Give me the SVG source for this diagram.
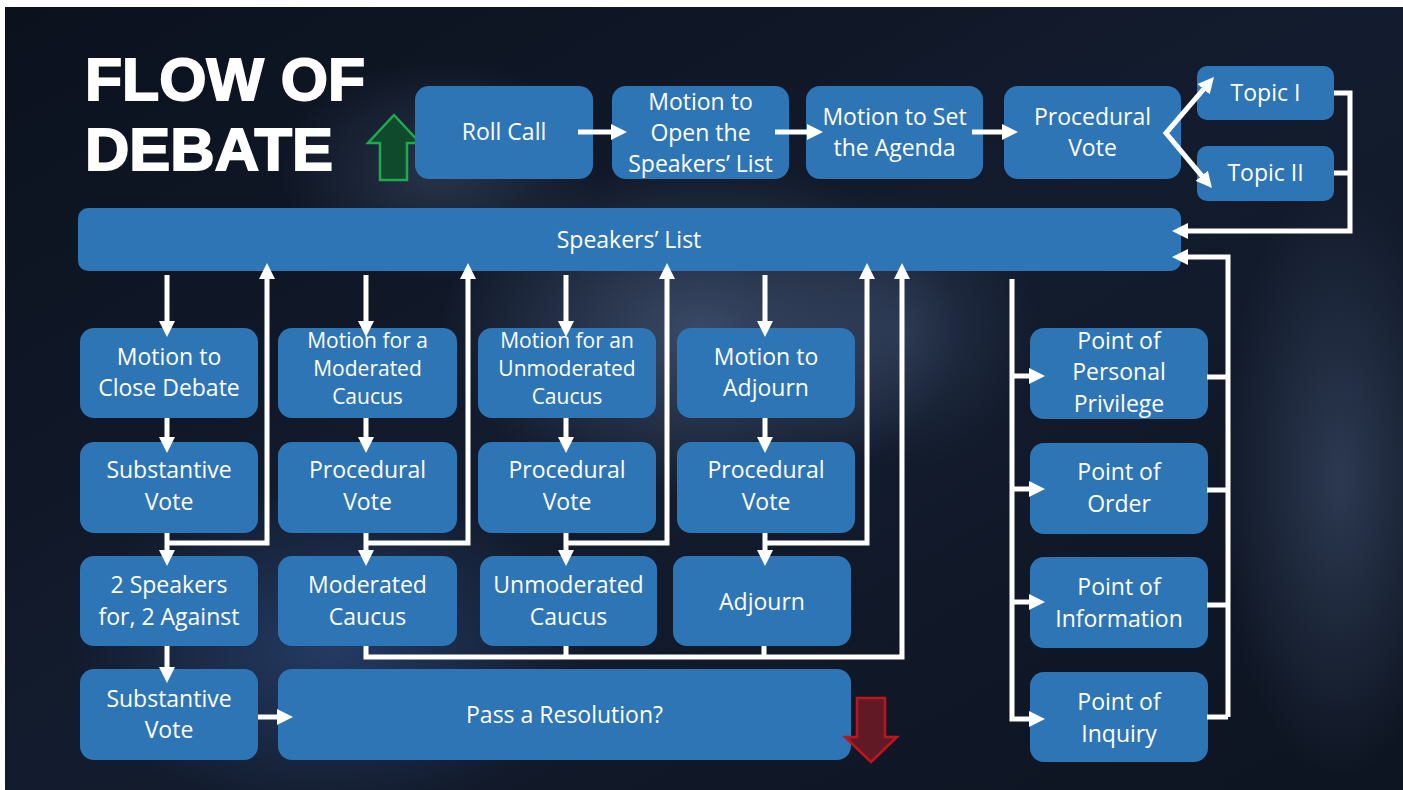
<svg xmlns="http://www.w3.org/2000/svg" width="1403" height="790" viewBox="0 0 1403 790">
  <defs>
    <radialGradient id="g1" cx="0.5" cy="0.5" r="0.5">
      <stop offset="0" stop-color="#5a6f95" stop-opacity="0.55"/>
      <stop offset="1" stop-color="#5a6f95" stop-opacity="0"/>
    </radialGradient>
    <radialGradient id="g2" cx="0.5" cy="0.5" r="0.5">
      <stop offset="0" stop-color="#2f4f86" stop-opacity="0.6"/>
      <stop offset="1" stop-color="#2f4f86" stop-opacity="0"/>
    </radialGradient>
    <linearGradient id="bg" x1="0" y1="0" x2="1" y2="1">
      <stop offset="0" stop-color="#0b111d"/>
      <stop offset="0.5" stop-color="#131c2e"/>
      <stop offset="1" stop-color="#0d1421"/>
    </linearGradient>
    <marker id="ah" markerUnits="userSpaceOnUse" markerWidth="16" markerHeight="16" viewBox="0 0 16 16" refX="10" refY="8" orient="auto-start-reverse">
      <path d="M0,0 L16,8 L0,16 z" fill="#ffffff"/>
    </marker>
    <style>
      .b { fill: #2e75b6; }
      .t { font-family: "Open Sans", "Noto Sans", sans-serif; font-size: 23px; fill: #ffffff; text-anchor: middle; }
      .s { font-size: 21px; }
      .c { fill: none; stroke: #ffffff; stroke-width: 5; stroke-linejoin: miter; stroke-linecap: butt; }
      .a { marker-end: url(#ah); }
      .title { font-family: "Liberation Sans", Arial, sans-serif; font-weight: 900; font-size: 59px; fill: #ffffff; stroke: #ffffff; stroke-width: 1.8; }
    </style>
  </defs>

  <!-- background -->
  <rect x="0" y="0" width="1403" height="790" fill="#ffffff"/>
  <rect x="5" y="7" width="1398" height="783" fill="url(#bg)"/>
  <ellipse cx="700" cy="330" rx="260" ry="170" fill="url(#g1)"/>
  <ellipse cx="440" cy="170" rx="160" ry="110" fill="url(#g1)" opacity="0.6"/>
  <ellipse cx="1340" cy="480" rx="120" ry="300" fill="url(#g1)" opacity="0.7"/>
  <ellipse cx="330" cy="650" rx="260" ry="170" fill="url(#g2)"/>
  <ellipse cx="900" cy="330" rx="140" ry="140" fill="url(#g1)" opacity="0.5"/>

  <!-- title -->
  <g id="title">
    <text class="title" x="85" y="100" textLength="280" lengthAdjust="spacingAndGlyphs">FLOW OF</text>
    <text class="title" x="85" y="170" textLength="248" lengthAdjust="spacingAndGlyphs">DEBATE</text>
  </g>

  <!-- green up arrow -->
  <g id="up-arrow">
    <polygon points="394,115 420,143 407,143 407,180 380,180 380,143 368,143" fill="#0e4a2b" stroke="#22a84f" stroke-width="2.5"/>
  </g>

  <!-- top row -->
  <g id="roll-call"><rect class="b" x="415" y="86" width="178" height="93" rx="14"/><text class="t" x="504" y="140">Roll Call</text></g>
  <g id="open-speakers-list"><rect class="b" x="612" y="86" width="177" height="93" rx="14"/><text class="t" x="700.5" y="110">Motion to</text><text class="t" x="700.5" y="141">Open the</text><text class="t" x="700.5" y="172">Speakers’ List</text></g>
  <g id="set-agenda"><rect class="b" x="806" y="86" width="177" height="93" rx="14"/><text class="t" x="894.5" y="125">Motion to Set</text><text class="t" x="894.5" y="156">the Agenda</text></g>
  <g id="procedural-vote-top"><rect class="b" x="1004" y="86" width="177" height="93" rx="14"/><text class="t" x="1092.5" y="125">Procedural</text><text class="t" x="1092.5" y="156">Vote</text></g>
  <g id="topic-1"><rect class="b" x="1197" y="66" width="137" height="54" rx="10"/><text class="t" x="1265.5" y="101">Topic I</text></g>
  <g id="topic-2"><rect class="b" x="1197" y="146" width="137" height="55" rx="10"/><text class="t" x="1265.5" y="181">Topic II</text></g>

  <g id="speakers-list"><rect class="b" x="78" y="208" width="1103" height="63" rx="10"/><text class="t" x="629" y="248">Speakers’ List</text></g>

  <!-- column 1 -->
  <g id="close-debate"><rect class="b" x="80" y="328" width="178" height="90" rx="14"/><text class="t" x="169" y="365">Motion to</text><text class="t" x="169" y="396">Close Debate</text></g>
  <g id="substantive-vote-1"><rect class="b" x="80" y="442" width="178" height="91" rx="14"/><text class="t" x="169" y="478">Substantive</text><text class="t" x="169" y="510">Vote</text></g>
  <g id="two-speakers"><rect class="b" x="80" y="556" width="178" height="90" rx="14"/><text class="t" x="169" y="593">2 Speakers</text><text class="t" x="169" y="625">for, 2 Against</text></g>
  <g id="substantive-vote-2"><rect class="b" x="80" y="669" width="178" height="91" rx="14"/><text class="t" x="169" y="707">Substantive</text><text class="t" x="169" y="738">Vote</text></g>

  <!-- column 2 -->
  <g id="motion-moderated"><rect class="b" x="278" y="328" width="179" height="90" rx="14"/><text class="t s" x="367.5" y="348">Motion for a</text><text class="t s" x="367.5" y="376">Moderated</text><text class="t s" x="367.5" y="404">Caucus</text></g>
  <g id="procedural-vote-2"><rect class="b" x="278" y="442" width="179" height="91" rx="14"/><text class="t" x="367.5" y="478">Procedural</text><text class="t" x="367.5" y="510">Vote</text></g>
  <g id="moderated-caucus"><rect class="b" x="278" y="556" width="179" height="90" rx="14"/><text class="t" x="367.5" y="593">Moderated</text><text class="t" x="367.5" y="625">Caucus</text></g>

  <!-- column 3 -->
  <g id="motion-unmoderated"><rect class="b" x="478" y="328" width="178" height="90" rx="14"/><text class="t s" x="567" y="348">Motion for an</text><text class="t s" x="567" y="376">Unmoderated</text><text class="t s" x="567" y="404">Caucus</text></g>
  <g id="procedural-vote-3"><rect class="b" x="478" y="442" width="178" height="91" rx="14"/><text class="t" x="567" y="478">Procedural</text><text class="t" x="567" y="510">Vote</text></g>
  <g id="unmoderated-caucus"><rect class="b" x="480" y="556" width="177" height="90" rx="14"/><text class="t" x="568.5" y="593">Unmoderated</text><text class="t" x="568.5" y="625">Caucus</text></g>

  <!-- column 4 -->
  <g id="motion-adjourn"><rect class="b" x="677" y="328" width="178" height="90" rx="14"/><text class="t" x="766" y="365">Motion to</text><text class="t" x="766" y="396">Adjourn</text></g>
  <g id="procedural-vote-4"><rect class="b" x="677" y="442" width="178" height="91" rx="14"/><text class="t" x="766" y="478">Procedural</text><text class="t" x="766" y="510">Vote</text></g>
  <g id="adjourn"><rect class="b" x="673" y="556" width="178" height="90" rx="14"/><text class="t" x="762" y="610">Adjourn</text></g>

  <g id="pass-resolution"><rect class="b" x="278" y="669" width="573" height="91" rx="14"/><text class="t" x="564.5" y="723">Pass a Resolution?</text></g>

  <!-- points -->
  <g id="point-personal-privilege"><rect class="b" x="1030" y="328" width="178" height="91" rx="14"/><text class="t" x="1119" y="349">Point of</text><text class="t" x="1119" y="380">Personal</text><text class="t" x="1119" y="412">Privilege</text></g>
  <g id="point-order"><rect class="b" x="1030" y="443" width="178" height="91" rx="14"/><text class="t" x="1119" y="480">Point of</text><text class="t" x="1119" y="512">Order</text></g>
  <g id="point-information"><rect class="b" x="1030" y="557" width="178" height="91" rx="14"/><text class="t" x="1119" y="595">Point of</text><text class="t" x="1119" y="627">Information</text></g>
  <g id="point-inquiry"><rect class="b" x="1030" y="672" width="178" height="90" rx="14"/><text class="t" x="1119" y="710">Point of</text><text class="t" x="1119" y="742">Inquiry</text></g>

  <!-- red down arrow -->
  <g id="down-arrow">
    <polygon points="857,698 885,698 885,737 897,737 871,762 845,737 857,737" fill="#6e1b27" fill-opacity="0.85" stroke="#c0141c" stroke-width="2.5"/>
  </g>

  <!-- connectors -->
  <g id="connectors">
    <path class="c a" d="M578,132 H621"/>
    <path class="c a" d="M775,132 H817"/>
    <path class="c a" d="M972,132 H1012"/>
    <path class="c" d="M1210.1,81.6 L1166,133 L1208.1,183.4" marker-start="url(#ah)" marker-end="url(#ah)"/>
    <path class="c a" d="M1334,93 H1350 V231 H1178"/>
    <path class="c" d="M1334,173 H1350"/>
    <path class="c a" d="M1228,717 V257 H1178"/>
    <path class="c" d="M1207,377 H1228 M1207,490 H1228 M1207,605 H1228 M1207,717 H1228"/>
    <path class="c a" d="M1012,279 V719 H1039"/>
    <path class="c a" d="M1012,376 H1039"/>
    <path class="c a" d="M1012,489 H1039"/>
    <path class="c a" d="M1012,602 H1039"/>

    <!-- column 1 -->
    <path class="c a" d="M167,275 V331"/>
    <path class="c a" d="M167,418 V447"/>
    <path class="c a" d="M167,533 V560"/>
    <path class="c a" d="M167,543 H267 V269"/>
    <path class="c a" d="M167,646 V677"/>
    <path class="c a" d="M258,717 H287"/>
    <!-- column 2 -->
    <path class="c a" d="M366,275 V331"/>
    <path class="c a" d="M366,418 V447"/>
    <path class="c a" d="M366,533 V560"/>
    <path class="c a" d="M366,543 H468 V269"/>
    <!-- column 3 -->
    <path class="c a" d="M566,275 V331"/>
    <path class="c a" d="M566,418 V447"/>
    <path class="c a" d="M566,533 V560"/>
    <path class="c a" d="M566,543 H667 V269"/>
    <!-- column 4 -->
    <path class="c a" d="M765,275 V331"/>
    <path class="c a" d="M765,418 V447"/>
    <path class="c a" d="M765,533 V560"/>
    <path class="c a" d="M765,543 H867 V269"/>
    <!-- return from caucuses / adjourn -->
    <path class="c a" d="M366,646 V657 H902 V269"/>
    <path class="c" d="M566,646 V657 M764,646 V657"/>
  </g>
</svg>
